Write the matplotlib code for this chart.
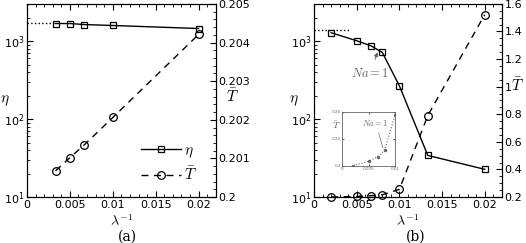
import numpy as np
import matplotlib
matplotlib.use('Agg')
from matplotlib import pyplot as plt
from matplotlib.ticker import MultipleLocator, LogLocator, NullFormatter

plt.rcParams['mathtext.fontset'] = 'cm'
plt.rcParams['font.family'] = 'DejaVu Sans'

# data panel (a)
xa = [0.00333, 0.005, 0.00667, 0.01, 0.02]
eta_a = [1680, 1680, 1630, 1585, 1450]
T_a = [0.20068, 0.20102, 0.20135, 0.20206, 0.20421]
eta_a_ref = 1700  # dotted line

# data panel (b)
xb = [0.002, 0.005, 0.00667, 0.008, 0.01, 0.01333, 0.02]
eta_b = [1280, 1010, 870, 716, 267, 34.2, 22.7]
T_b = [0.2, 0.205, 0.21, 0.217, 0.256, 0.791, 1.522]
eta_b_ref = 1390
ref_b_end = 0.0042

# inset
xi = [0.002, 0.005, 0.00667, 0.008, 0.01]
Ti = [0.2, 0.205, 0.21, 0.217, 0.256]

fig = plt.figure(figsize=(5.26, 2.43), dpi=100)
ax1 = fig.add_axes([0.0513, 0.189, 0.359, 0.795])
ax2 = fig.add_axes([0.597, 0.189, 0.357, 0.795])


def style(ax, axr, rmin, rmaj):
    ax.set_xlim(0, 0.022)
    ax.set_yscale('log')
    ax.set_ylim(10, 3000)
    ax.xaxis.set_minor_locator(MultipleLocator(0.001))
    ax.set_xticks([0, 0.005, 0.01, 0.015, 0.02])
    ax.set_xticklabels(['0', '0.005', '0.01', '0.015', '0.02'])
    ax.yaxis.set_minor_locator(LogLocator(subs=np.arange(2, 10)))
    ax.yaxis.set_minor_formatter(NullFormatter())
    ax.tick_params(which='both', direction='in', top=True, labelsize=8, pad=2)
    ax.tick_params(which='major', length=4)
    ax.tick_params(which='minor', length=2)
    axr.yaxis.set_major_locator(MultipleLocator(rmaj))
    axr.yaxis.set_minor_locator(MultipleLocator(rmin))
    axr.tick_params(which='both', direction='in', labelsize=8, pad=2)
    axr.tick_params(which='major', length=4)
    axr.tick_params(which='minor', length=2)
    ax.set_xlabel(r'$\lambda^{-1}$', fontsize=10)
    ax.xaxis.set_label_coords(0.5, -0.085)
    ax.set_ylabel(r'$\eta$', fontsize=11, rotation=0, va='center', ha='center')
    axr.set_ylabel(r'$\bar{T}$', fontsize=11, rotation=0, va='center',
                   ha='center')


# panel (a)
ax1r = ax1.twinx()
ax1.plot([0, xa[0]], [eta_a_ref, eta_a_ref], ':', color='k', lw=1)
l1, = ax1.plot(xa, eta_a, '-s', color='k', lw=1, mfc='none', ms=3.8, mew=0.9)
ax1r.set_ylim(0.2, 0.205)
l2, = ax1r.plot(xa, T_a, '--o', color='k', lw=1, mfc='none', ms=5.5, mew=0.9,
                dashes=(5, 4))
style(ax1, ax1r, 0.0002, 0.001)
ax1r.set_yticks([0.2, 0.201, 0.202, 0.203, 0.204, 0.205])
ax1r.set_yticklabels(['0.2', '0.201', '0.202', '0.203', '0.204', '0.205'])
ax1.yaxis.set_label_coords(-0.116, 0.5)
ax1r.yaxis.set_label_coords(1.09, 0.52)
ax1.legend([l1, l2], [r'$\eta$', r'$\bar{T}$'], loc='lower right',
           bbox_to_anchor=(0.97, 0.0), frameon=False, fontsize=11,
           handlelength=2.6, handletextpad=0.2, labelspacing=0.4)
fig.text(0.242, 0.025, '(a)', ha='center', va='center', fontsize=10,
         family='serif')

# panel (b)
ax2r = ax2.twinx()
ax2.plot([0, ref_b_end], [eta_b_ref, eta_b_ref], ':', color='k', lw=1)
ax2.plot(xb, eta_b, '-s', color='k', lw=1, mfc='none', ms=3.8, mew=0.9)
ax2r.set_ylim(0.2, 1.6)
ax2r.plot(xb, T_b, '--o', color='k', lw=1, mfc='none', ms=5.5, mew=0.9,
          dashes=(5, 4), clip_on=False)
style(ax2, ax2r, 0.05, 0.2)
ax2r.set_yticks([0.2, 0.4, 0.6, 0.8, 1.0, 1.2, 1.4, 1.6])
ax2r.set_yticklabels(['0.2', '0.4', '0.6', '0.8', '1', '1.2', '1.4', '1.6'])
ax2.yaxis.set_label_coords(-0.106, 0.5)
ax2r.yaxis.set_label_coords(1.085, 0.58)
ax2.annotate(r'$Na=1$', xy=(0.00743, 720), xytext=(0.0066, 380),
             ha='center', va='center', fontsize=9, color='0.4',
             arrowprops=dict(arrowstyle='-|>', color='0.4', lw=0.7,
                             mutation_scale=6, shrinkA=4, shrinkB=0))
fig.text(0.79, 0.025, '(b)', ha='center', va='center', fontsize=10,
         family='serif')

# inset
axi = fig.add_axes([0.651, 0.318, 0.100, 0.222])
axi.plot(xi, Ti, ':', color='0.4', lw=0.8, marker='o', ms=1.5)
axi.set_xlim(0, 0.01)
axi.set_ylim(0.2, 0.26)
axi.set_xticks([0, 0.005, 0.01])
axi.set_xticklabels(['0', '0.005', '0.01'])
axi.set_yticks([0.2, 0.23, 0.26])
axi.set_yticklabels(['0.2', '0.23', '0.26'])
axi.tick_params(direction='in', labelsize=3, length=1.5, pad=1,
                colors='0.4', top=True, right=True)
for s in axi.spines.values():
    s.set_color('0.4')
    s.set_linewidth(0.6)
axi.set_ylabel(r'$\bar{T}$', fontsize=7, rotation=0, color='0.4',
               va='center', ha='center')
axi.yaxis.set_label_coords(-0.12, 0.76)
axi.annotate(r'$Na=1$', xy=(0.0077, 0.22), xytext=(0.0063, 0.248),
             ha='center', va='center', fontsize=6, color='0.4',
             arrowprops=dict(arrowstyle='-', color='0.4', lw=0.5,
                             shrinkA=2, shrinkB=0))

fig.savefig('out.png', dpi=100)
